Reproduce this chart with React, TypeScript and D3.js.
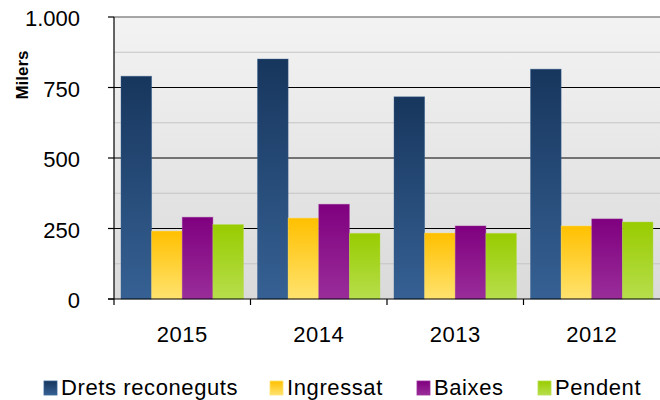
import React from 'react';
import * as d3 from 'd3';

const years = ['2015', '2014', '2013', '2012'];
const series = ['Drets reconeguts', 'Ingressat', 'Baixes', 'Pendent'];
const drets = [790, 851, 717, 815];
const ingressat = [241, 287, 234, 259];
const baixes = [290, 336, 259, 284];
const pendent = [264, 233, 233, 273];
const yTicks = [0, 250, 500, 750, 1000];
const minorTicks = [125, 375, 625, 875];

// top / bottom gradient stops per series
const colors = [
  ['#17365d', '#366194'],
  ['#ffc000', '#ffe36f'],
  ['#7f007f', '#9a2d9a'],
  ['#99cc00', '#b6de4c'],
];

const W = 660;
const H = 400;
const margin = { top: 17, right: 0, bottom: 101, left: 114 };

const fmt = (v: number) => (v === 1000 ? '1.000' : String(v));

export default function App() {
  const values = [drets, ingressat, baixes, pendent];
  const innerW = W - margin.left - margin.right;
  const innerH = H - margin.top - margin.bottom;

  const x = d3.scaleBand<string>().domain(years).range([0, innerW]).paddingInner(0).paddingOuter(0);
  const x1 = d3.scaleBand<string>().domain(series).range([7, x.bandwidth() - 7]).padding(0);
  const y = d3.scaleLinear().domain([0, 1000]).range([innerH, 0]);

  const legendX = [44, 270, 417, 538];

  return (
    <svg width={W} height={H} style={{ position: 'absolute', left: 0, top: 0, fontFamily: 'Liberation Sans, Arial, sans-serif' }}>
      <defs>
        <linearGradient id="bg" x1="0" y1="0" x2="0" y2="1">
          <stop offset="0" stopColor="#f3f3f3" />
          <stop offset="1" stopColor="#dadada" />
        </linearGradient>
        {colors.map((c, i) => (
          <linearGradient key={i} id={'g' + i} x1="0" y1="0" x2="0" y2="1">
            <stop offset="0" stopColor={c[0]} />
            <stop offset="1" stopColor={c[1]} />
          </linearGradient>
        ))}
      </defs>
      <g transform={`translate(${margin.left},${margin.top})`}>
        <rect x={0} y={0} width={innerW} height={innerH} fill="url(#bg)" />
        {minorTicks.map(t => (
          <line key={t} x1={0} x2={innerW} y1={y(t)} y2={y(t)} stroke="#c4c4c4" strokeWidth={1.2} />
        ))}
        {yTicks.filter(t => t > 0 && t < 1000).map(t => (
          <line key={t} x1={0} x2={innerW} y1={y(t)} y2={y(t)} stroke="#000" strokeWidth={1.2} />
        ))}
        <line x1={0} x2={innerW} y1={y(1000)} y2={y(1000)} stroke="#8a8a8a" strokeWidth={1.5} />
        {years.map((yr, i) => (
          <g key={yr} transform={`translate(${x(yr)},0)`}>
            {series.map((s, j) => {
              const v = values[j][i];
              return (
                <rect
                  key={s}
                  x={x1(s)}
                  y={y(v)}
                  width={x1.bandwidth()}
                  height={innerH - y(v)}
                  fill={`url(#g${j})`}
                  stroke={colors[j][1]}
                  strokeOpacity={0.5}
                  strokeWidth={0.8}
                />
              );
            })}
          </g>
        ))}
        {/* axes */}
        <line x1={0} x2={0} y1={0} y2={innerH} stroke="#000" strokeWidth={1.2} />
        <line x1={-6} x2={innerW} y1={innerH} y2={innerH} stroke="#000" strokeWidth={1.2} />
        {yTicks.map(t => (
          <g key={t}>
            <line x1={-6} x2={0} y1={y(t)} y2={y(t)} stroke="#000" strokeWidth={1.2} />
            <text x={-34} y={y(t)} dy="0.42em" textAnchor="end" fontSize={22} fill="#000">{fmt(t)}</text>
          </g>
        ))}
        {years.map((yr, i) => (
          <g key={yr}>
            <line x1={x(yr)!} x2={x(yr)!} y1={innerH} y2={innerH + 6} stroke="#000" strokeWidth={1.2} />
            <text x={x(yr)! + x.bandwidth() / 2} y={innerH + 43} textAnchor="middle" fontSize={22} letterSpacing={0.5} fill="#000">{yr}</text>
          </g>
        ))}
      </g>
      <text transform="translate(28,75) rotate(-90)" textAnchor="middle" fontSize={17} fontWeight="bold" fill="#000">Milers</text>
      {series.map((s, j) => (
        <g key={s}>
          <rect x={legendX[j]} y={381} width={13} height={14} fill={`url(#g${j})`} stroke={colors[j][1]} strokeWidth={0.8} />
          <text x={legendX[j] + 17} y={395} fontSize={22} letterSpacing={0.6} fill="#000">{s}</text>
        </g>
      ))}
    </svg>
  );
}
